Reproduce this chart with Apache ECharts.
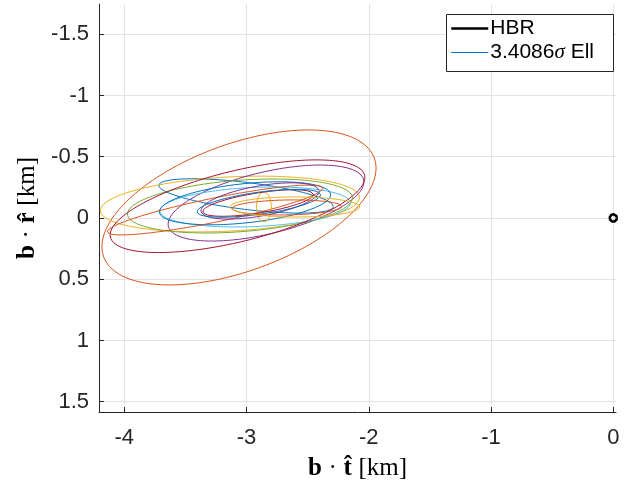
<!DOCTYPE html>
<html><head><meta charset="utf-8">
<script src="https://cdn.jsdelivr.net/npm/echarts@6/dist/echarts.min.js"></script>
<style>html,body{margin:0;padding:0;background:#fff}#c{width:630px;height:482px}</style>
</head><body><div id="c"></div>
<script>
// Ellipse parameters (km): center x, center y (r-axis, plotted reversed), semi-major, semi-minor, visual tilt (deg)
const ellCx   = [-3.004, -3.062, -3.136, -2.841, -3.054, -2.930, -3.074, -3.013, -3.258, -2.858, -2.890, -2.906, -2.900, -2.670, -2.605];
const ellCy   = [-0.180, -0.086, -0.114, -0.122, -0.098, -0.090, -0.096, -0.120, -0.065, -0.090, -0.139, -0.122, -0.120, -0.086, -0.090];
const ellA    = [0.720, 1.178, 1.062, 0.821, 0.923, 0.780, 1.070, 0.705, 0.899, 0.123, 0.490, 0.458, 0.510, 0.449, 0.531];
const ellB    = [0.110, 0.519, 0.221, 0.252, 0.210, 0.160, 0.289, 0.160, 0.098, 0.061, 0.123, 0.082, 0.090, 0.061, 0.082];
const ellTilt = [-7, 20, 3, 13.4, 4.3, 2.5, 13.7, 6, 11.5, 90, 10, 9, 8, 1, 0];
const ellColorIdx = [0, 1, 2, 3, 4, 5, 6, 0, 1, 2, 3, 6, 0, 1, 2];
// HBR circle
const hbrCenter = [0, 0];
const hbrRadius = 0.03;
const xTicks = [-4, -3, -2, -1, 0];
const yTicks = [-1.5, -1, -0.5, 0, 0.5, 1, 1.5];
const legendNames = ['HBR', '3.4086σ Ell'];

const palette = ['#0072BD', '#D95319', '#EDB120', '#7E2F8E', '#77AC30', '#4DBEEE', '#A2142F'];

function ellipsePts(cx, cy, a, b, tiltDeg) {
  const th = tiltDeg * Math.PI / 180, c = Math.cos(th), s = Math.sin(th);
  const pts = [];
  for (let i = 0; i <= 180; i++) {
    const t = i / 180 * 2 * Math.PI;
    const u = a * Math.cos(t), v = b * Math.sin(t);
    pts.push([cx + u * c - v * s, cy - (u * s + v * c)]);
  }
  return pts;
}

const series = [];
series.push({
  name: legendNames[0], type: 'line', showSymbol: false, symbol: 'none', silent: true,
  data: ellipsePts(hbrCenter[0], hbrCenter[1], hbrRadius, hbrRadius, 0),
  lineStyle: { color: '#000', width: 2.5 }, itemStyle: { color: '#000' }, z: 5
});
for (let i = 0; i < ellCx.length; i++) {
  const col = palette[ellColorIdx[i]];
  series.push({
    name: i === 0 ? legendNames[1] : 'ell' + i, type: 'line', showSymbol: false, symbol: 'none', silent: true,
    data: ellipsePts(ellCx[i], ellCy[i], ellA[i], ellB[i], ellTilt[i]),
    lineStyle: { color: col, width: 1 }, itemStyle: { color: col }
  });
}

const fmt = v => String(Math.round(v * 10) / 10);
const serif = 'Liberation Serif';
const nameRich = {
  b: { fontFamily: serif, fontWeight: 'bold', fontSize: 25, color: '#000' },
  n: { fontFamily: serif, fontSize: 25, color: '#000' }
};
const chart = echarts.init(document.getElementById('c'), null, { renderer: 'canvas' });
chart.setOption({
  animation: false,
  backgroundColor: '#fff',
  grid: { left: 99, top: 4, width: 517, height: 408, containLabel: false, outerBoundsMode: 'none' },
  graphic: [{
    type: 'rect', left: 446, top: 14, z: 3, silent: true,
    shape: { width: 167, height: 57 },
    style: { fill: '#fff', stroke: '#262626', lineWidth: 1 }
  }],
  xAxis: {
    type: 'value', min: -4.207, max: 0.022,
    axisLine: { show: true, onZero: false, lineStyle: { color: '#262626', width: 1 } },
    axisTick: { show: true, inside: true, length: 5, customValues: xTicks, lineStyle: { color: '#262626' } },
    axisLabel: { customValues: xTicks, formatter: fmt, color: '#262626', fontSize: 22, fontFamily: 'Liberation Sans', margin: 15 },
    splitLine: { show: true, lineStyle: { color: '#e3e3e3', width: 1 } },
    name: '{b|b}  {n|·}  {b|t\u0302}  {n|[km]}', nameLocation: 'middle', nameGap: 44,
    nameTextStyle: { rich: nameRich }
  },
  yAxis: {
    type: 'value', inverse: true, min: -1.747, max: 1.584,
    axisLine: { show: true, onZero: false, lineStyle: { color: '#262626', width: 1 } },
    axisTick: { show: true, inside: true, length: 5, customValues: yTicks, lineStyle: { color: '#262626' } },
    axisLabel: { customValues: yTicks, formatter: fmt, color: '#262626', fontSize: 22, fontFamily: 'Liberation Sans', margin: 10 },
    splitLine: { show: true, lineStyle: { color: '#e3e3e3', width: 1 } },
    name: '{b|b}  {n|·}  {b|r\u0302}  {n|[km]}', nameLocation: 'middle', nameGap: 58, nameRotate: 90,
    nameTextStyle: { rich: nameRich }
  },
  legend: {
    data: [
      { name: legendNames[0], lineStyle: { width: 2.5 } },
      { name: legendNames[1], lineStyle: { width: 1 } }
    ],
    orient: 'vertical', left: 446, top: 16, z: 4,
    padding: [2, 4, 2, 4], itemGap: 3, itemWidth: 37, itemHeight: 1,
    formatter: n => n === legendNames[1] ? '3.4086{s|σ} Ell' : n,
    textStyle: {
      fontSize: 21, fontFamily: 'Liberation Sans', color: '#000', padding: [0, 0, 0, -3],
      rich: { s: { fontSize: 21, fontFamily: serif, fontStyle: 'italic', color: '#000' } }
    },
    selectedMode: false
  },
  series: series
});
</script></body></html>
